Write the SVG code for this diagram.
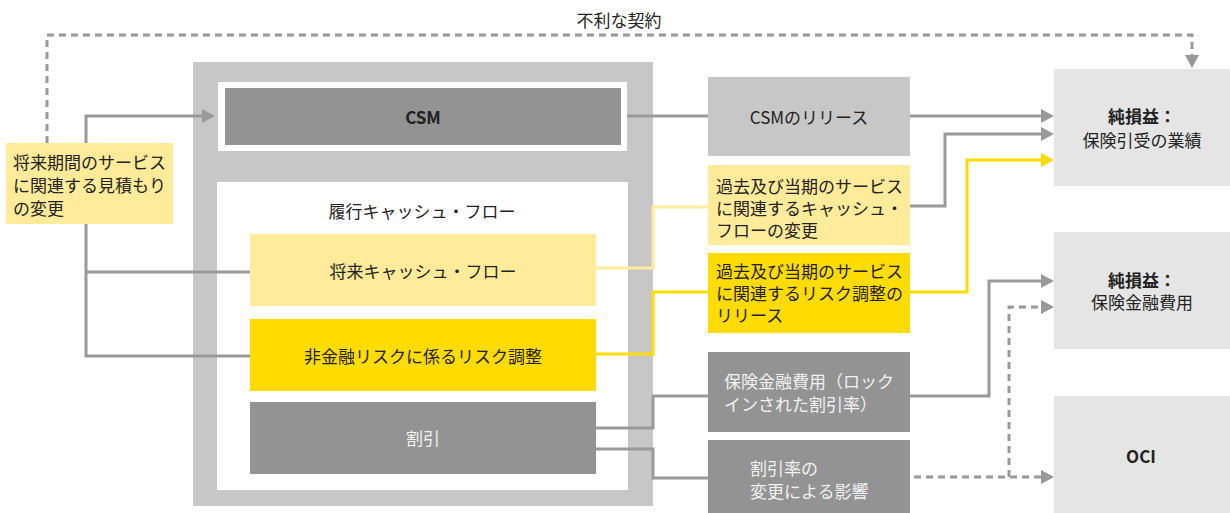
<svg xmlns="http://www.w3.org/2000/svg" width="1230" height="513" viewBox="0 0 1230 513">
<style>
text{font-family:"Noto Sans CJK JP","Noto Sans",sans-serif;font-size:17px;fill:#222;dominant-baseline:central}
.c{text-anchor:middle}
.w{fill:#f2f2f2}
.b{font-weight:bold}
.ln{fill:none;stroke:#999;stroke-width:3}
.dash{fill:none;stroke:#999;stroke-width:3;stroke-dasharray:7 5}
.ly{fill:none;stroke:#FFEB99;stroke-width:3}
.yl{fill:none;stroke:#FFDC00;stroke-width:3}
.dark{fill:#939393}
.pale{fill:#FFEB99}
.yel{fill:#FFDC00}
.lg{fill:#C6C7C6}
.xl{fill:#E5E5E5}
</style>
<defs>
<marker id="ag" markerUnits="userSpaceOnUse" markerWidth="13" markerHeight="14" refX="0" refY="7" orient="auto"><path d="M0,0 L13,7 L0,14 z" fill="#999"/></marker>
<marker id="ay" markerUnits="userSpaceOnUse" markerWidth="13" markerHeight="14" refX="0" refY="7" orient="auto"><path d="M0,0 L13,7 L0,14 z" fill="#FFDC00"/></marker>
</defs>
<rect width="1230" height="513" fill="#fff"/>
<text class="c" x="619" y="19">不利な契約</text>
<g id="frame">
<rect x="193" y="62" width="460" height="444" class="lg"/>
<rect x="218" y="82" width="409" height="69" fill="#fff"/>
<rect x="217" y="182" width="411" height="308" fill="#fff"/>
<text class="c" x="422" y="210">履行キャッシュ・フロー</text>
</g>
<g id="csm"><rect x="225" y="88" width="396" height="57" class="dark"/><text class="c b" x="423" y="116">CSM</text></g>
<g id="future-cf"><rect x="250" y="234" width="346" height="72" class="pale"/><text class="c" x="423" y="270">将来キャッシュ・フロー</text></g>
<g id="risk-adj"><rect x="250" y="319" width="346" height="72" class="yel"/><text class="c" x="423" y="355">非金融リスクに係るリスク調整</text></g>
<g id="discount"><rect x="250" y="402" width="346" height="72" class="dark"/><text class="c w" x="423" y="437">割引</text></g>
<g id="estimate-change"><rect x="6" y="143" width="167" height="81" class="pale"/>
<text x="13" y="161">将来期間のサービス</text><text x="13" y="184">に関連する見積もり</text><text x="13" y="207">の変更</text></g>
<g id="csm-release"><rect x="708" y="77" width="202" height="79" class="lg"/><text class="c" x="809" y="116">CSMのリリース</text></g>
<g id="cf-change"><rect x="708" y="165" width="202" height="80" class="pale"/>
<text x="716" y="185">過去及び当期のサービス</text><text x="716" y="207">に関連するキャッシュ・</text><text x="716" y="229">フローの変更</text></g>
<g id="ra-release"><rect x="708" y="253" width="202" height="80" class="yel"/>
<text x="716" y="270">過去及び当期のサービス</text><text x="716" y="292">に関連するリスク調整の</text><text x="716" y="314">リリース</text></g>
<g id="locked-rate"><rect x="708" y="352" width="202" height="80" class="dark"/>
<text class="w" x="724" y="380">保険金融費用（ロック</text><text class="w" x="724" y="403">インされた割引率）</text></g>
<g id="rate-change"><rect x="708" y="440" width="202" height="73" class="dark"/>
<text class="w" x="750" y="467">割引率の</text><text class="w" x="750" y="490">変更による影響</text></g>
<g id="pl-service"><rect x="1054" y="69" width="176" height="117" class="xl"/>
<text class="c b" x="1142" y="115">純損益：</text><text class="c" x="1142" y="139">保険引受の業績</text></g>
<g id="pl-finance"><rect x="1054" y="232" width="176" height="117" class="xl"/>
<text class="c b" x="1142" y="279">純損益：</text><text class="c" x="1142" y="301">保険金融費用</text></g>
<g id="oci"><rect x="1054" y="396" width="176" height="117" class="xl"/><text class="c b" x="1141" y="455">OCI</text></g>
<g id="connectors">
<path class="dash" d="M47,143 V35 H1192 V55" marker-end="url(#ag)"/>
<path class="ln" d="M86,143 V116 H202" marker-end="url(#ag)"/>
<path class="ln" d="M86,224 V356 H250"/>
<path class="ln" d="M86,272 H250"/>
<path class="ln" d="M627,116 H708"/>
<path class="ln" d="M910,116 H1041" marker-end="url(#ag)"/>
<path class="ln" d="M910,206 H945 V134 H1041" marker-end="url(#ag)"/>
<path class="ly" d="M596,268 H653 V207 H708"/>
<path class="yl" d="M596,354 H653 V292 H708"/>
<path class="yl" d="M910,292 H967 V160 H1041" marker-end="url(#ay)"/>
<path class="ln" d="M596,428 H653 V396 H708"/>
<path class="ln" d="M596,449 H653 V478 H708"/>
<path class="ln" d="M910,396 H989 V281 H1041" marker-end="url(#ag)"/>
<path class="dash" d="M914,477 H1041" marker-end="url(#ag)"/>
<path class="dash" d="M1009,477 V307 H1041" marker-end="url(#ag)"/>
</g>
</svg>
